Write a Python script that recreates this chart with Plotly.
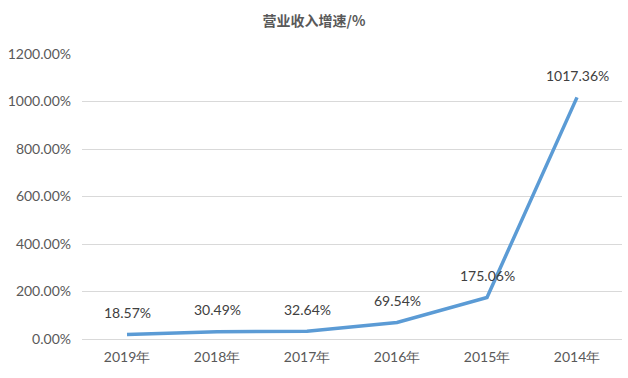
import plotly.graph_objects as go

categories = ["2019年", "2018年", "2017年", "2016年", "2015年", "2014年"]
growth = [18.57, 30.49, 32.64, 69.54, 175.06, 1017.36]
labels = ["18.57%", "30.49%", "32.64%", "69.54%", "175.06%", "1017.36%"]
yticks = [0, 200, 400, 600, 800, 1000, 1200]
yticklabels = ["0.00%", "200.00%", "400.00%", "600.00%", "800.00%", "1000.00%", "1200.00%"]

fig = go.Figure()
fig.add_trace(go.Scatter(
    x=categories, y=growth, mode="lines",
    line=dict(color="#5B9BD5", width=3.5),
    hoverinfo="skip"
))
for c, v, t in zip(categories, growth, labels):
    fig.add_annotation(x=c, y=v, text=t, showarrow=False, yshift=22,
                       font=dict(family="Lato, Open Sans, sans-serif", size=14, color="#404040"))

fig.update_layout(
    width=628, height=378,
    margin=dict(l=82, r=6, t=54, b=39),
    paper_bgcolor="white", plot_bgcolor="white",
    showlegend=False,
    title=dict(text="<b>营业收入增速/%</b>", x=0.5, xanchor="center", y=0.945, yanchor="middle",
               font=dict(family="Noto Sans CJK SC", size=14, color="#595959")),
    xaxis=dict(type="category", range=[-0.5, 5.5], showgrid=False, showline=False, ticks="",
               ticklabelstandoff=8,
               tickfont=dict(family="Lato, Open Sans, sans-serif", size=14, color="#595959")),
    yaxis=dict(range=[0, 1200], tickvals=yticks, ticktext=yticklabels,
               showgrid=True, gridcolor="#D9D9D9", gridwidth=1, zeroline=True,
               zerolinecolor="#D9D9D9", zerolinewidth=1,
               tickfont=dict(family="Lato, Open Sans, sans-serif", size=14, color="#595959"),
               ticks="", ticklabelstandoff=10),
)
fig.write_html("out.html")
